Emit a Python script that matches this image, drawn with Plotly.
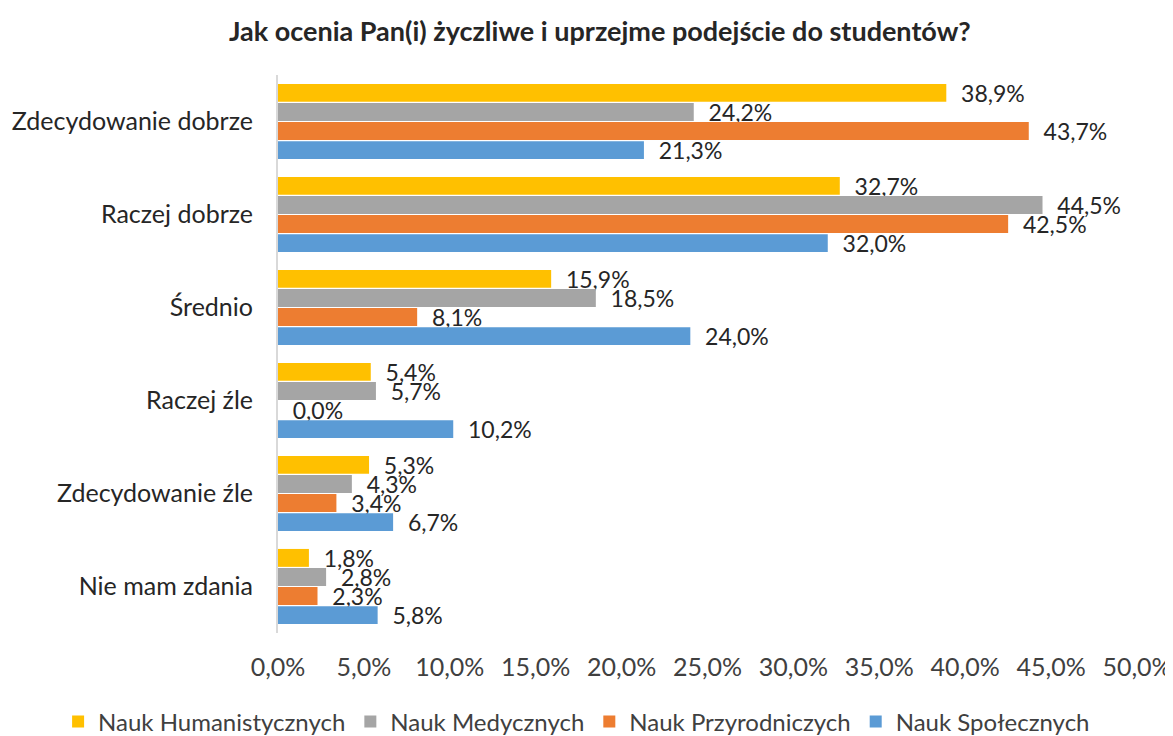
import plotly.graph_objects as go

categories = ["Zdecydowanie dobrze", "Raczej dobrze", "Średnio", "Raczej źle",
              "Zdecydowanie źle", "Nie mam zdania"]
series_names = ["Nauk Humanistycznych", "Nauk Medycznych", "Nauk Przyrodniczych", "Nauk Społecznych"]
hum = [38.9, 32.7, 15.9, 5.4, 5.3, 1.8]
med = [24.2, 44.5, 18.5, 5.7, 4.3, 2.8]
przyr = [43.7, 42.5, 8.1, 0.0, 3.4, 2.3]
spol = [21.3, 32.0, 24.0, 10.2, 6.7, 5.8]
tick_vals = [0, 5, 10, 15, 20, 25, 30, 35, 40, 45, 50]
title = "Jak ocenia Pan(i) życzliwe i uprzejme podejście do studentów?"

colors = ["#FFC000", "#A5A5A5", "#ED7D31", "#5B9BD5"]
FONT = "Lato"


def pct(v):
    return f"{v:.1f}".replace(".", ",") + "%"


fig = go.Figure()
for name, vals, col in zip(series_names, [hum, med, przyr, spol], colors):
    fig.add_trace(go.Bar(
        y=categories, x=vals, name=name, orientation="h",
        marker=dict(color=col, line=dict(width=0)),
        text=["\u00a0\u00a0" + pct(v) for v in vals],
        textposition="outside", cliponaxis=False, constraintext="none",
        textfont=dict(family=FONT, size=23, color="#262626"),
    ))

# page has an 8px body margin, so the figure is sized/offset to compensate
fig.update_layout(
    width=1165, height=728,
    paper_bgcolor="white", plot_bgcolor="white",
    barmode="group", bargap=0.18, bargroupgap=0.06,
    margin=dict(l=270, r=36, t=67, b=103, autoexpand=False),
    title=dict(text="<b>" + title + "</b>", x=0.508, xanchor="center", y=0.968, yanchor="middle",
               font=dict(family=FONT, size=27, color="#262626")),
    showlegend=True,
    legend=dict(orientation="h", xref="paper", x=-0.256, xanchor="left",
                yref="paper", y=-0.1595, yanchor="middle",
                font=dict(family=FONT, size=24, color="#404040"),
                itemsizing="constant", traceorder="normal"),
    font=dict(family=FONT),
)
fig.update_xaxes(range=[0, 50], tickvals=tick_vals, ticktext=[pct(v) for v in tick_vals],
                 showgrid=False, zeroline=False, showline=False, ticks="",
                 ticklabelstandoff=17, automargin=False,
                 tickfont=dict(family=FONT, size=25, color="#404040"))
fig.update_yaxes(autorange="reversed", showgrid=False, zeroline=False,
                 showline=True, linecolor="#D9D9D9", linewidth=2, ticks="",
                 ticklabelstandoff=18, automargin=False,
                 tickfont=dict(family=FONT, size=25, color="#262626"))

fig.write_html("out.html")
